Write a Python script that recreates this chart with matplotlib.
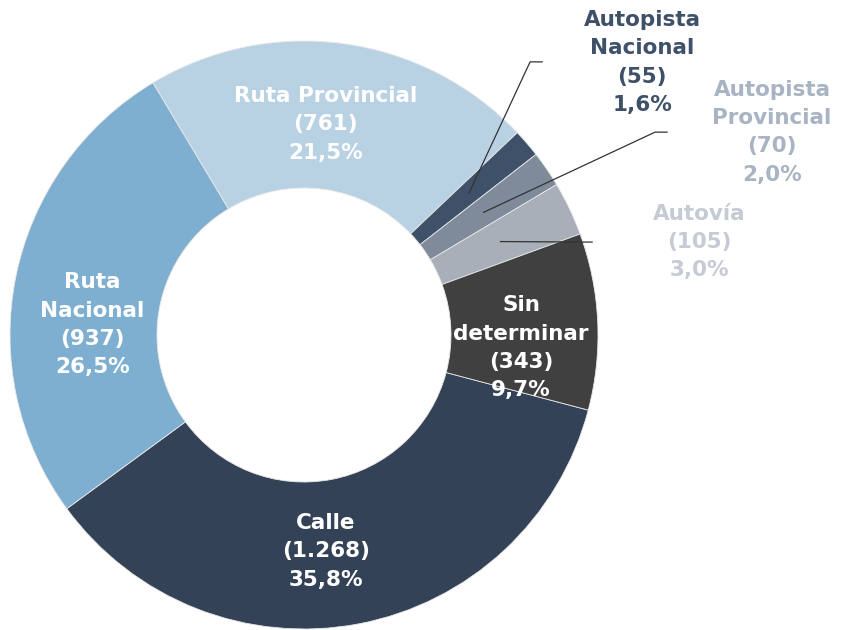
import matplotlib
matplotlib.use("Agg")
import matplotlib.pyplot as plt
import numpy as np

# data, clockwise starting from the bottom slice
categories = ["Calle", "Ruta\nNacional", "Ruta Provincial", "Autopista\nNacional",
              "Autopista\nProvincial", "Autovía", "Sin\ndeterminar"]
counts = [1268, 937, 761, 55, 70, 105, 343]
counts_txt = ["1.268", "937", "761", "55", "70", "105", "343"]
pct_txt = ["35,8%", "26,5%", "21,5%", "1,6%", "2,0%", "3,0%", "9,7%"]

colors = ["#344257", "#7FAFD0", "#B8D2E4", "#3F5169", "#7F8B9A", "#A8AFB8", "#404040"]
outside_colors = {3: "#3F5169", 4: "#A8B4C4", 5: "#C5CBD4"}

# label layout for the small slices (data units, radius = 1)
outside_pos = {3: (1.15, 0.927), 4: (1.592, 0.69), 5: (1.344, 0.316)}
elbow = {3: (0.769, 0.929, 0.81), 4: (1.194, 0.69, 1.235), 5: (None, 0.316, 0.98)}

FONT = "DejaVu Sans"
FS = 15.5
LS = 1.52

fig = plt.figure(figsize=(8.41, 6.30), dpi=100)
ax = fig.add_axes([0, 0, 1, 1])

wedges, _ = ax.pie(counts, colors=colors, startangle=-14.8, counterclock=False,
                   radius=1.0, wedgeprops=dict(width=0.5, edgecolor="#e8e8e8", linewidth=0.6))

# place axes so that centre is at (304, 335) px and radius 294 px
R = 294.0
cx, cy = 304.0, 335.0
ax.set_xlim(-cx / R, (841 - cx) / R)
ax.set_ylim(-(630 - cy) / R, cy / R)
ax.set_aspect("auto")
ax.axis("off")

label_shift = [-5, 8.7, 2, 0, 0, 0, -6]  # degrees, small nudges like the original
label_r = [0.74, 0.72, 0.72, 0.74, 0.74, 0.74, 0.74]
r_lab = 0.74

for i, w in enumerate(wedges):
    mid = np.deg2rad((w.theta1 + w.theta2) / 2)
    txt = "%s\n(%s)\n%s" % (categories[i], counts_txt[i], pct_txt[i])
    if i in outside_pos:
        sx, sy = r_lab * np.cos(mid), r_lab * np.sin(mid)
        ex, ey, hx = elbow[i]
        if ex is None:
            ax.plot([sx, hx], [sy, ey], color="#333333", lw=0.9)
        else:
            ax.plot([sx, ex, hx], [sy, ey, ey], color="#333333", lw=0.9)
        lx, ly = outside_pos[i]
        ax.text(lx, ly, txt, ha="center", va="center", color=outside_colors[i],
                fontsize=FS, fontweight="bold", family=FONT, linespacing=LS)
    else:
        a = mid + np.deg2rad(label_shift[i])
        ax.text(label_r[i] * np.cos(a), label_r[i] * np.sin(a), txt, ha="center",
                va="center", color="white", fontsize=FS, fontweight="bold",
                family=FONT, linespacing=LS)

fig.savefig("out.png", dpi=100, facecolor="white")
